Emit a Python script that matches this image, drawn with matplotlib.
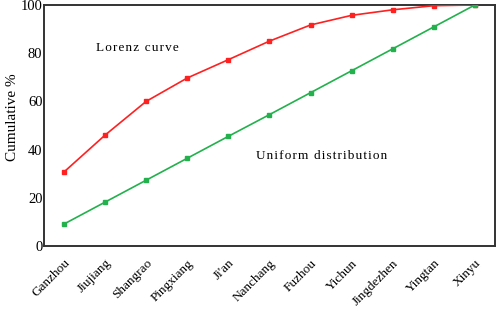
import matplotlib
matplotlib.use("Agg")
import matplotlib.pyplot as plt

cities = ["Ganzhou", "Jiujiang", "Shangrao", "Pingxiang", "Ji'an", "Nanchang",
          "Fuzhou", "Yichun", "Jingdezhen", "Yingtan", "Xinyu"]
lorenz = [30.7, 46.0, 60.0, 69.7, 77.3, 85.0, 91.7, 95.7, 98.0, 99.7, 100.0]
uniform = [9.1, 18.2, 27.3, 36.4, 45.5, 54.5, 63.6, 72.7, 81.8, 90.9, 100.0]
yticks = [0, 20, 40, 60, 80, 100]

plt.rcParams['font.family'] = ['Liberation Serif', 'DejaVu Serif']

def spaced(s):
    return '\u200a'.join(s)

fig = plt.figure(figsize=(4.98, 3.11), dpi=100)
ax = fig.add_axes([0.088, 0.209, 0.906, 0.775])
x = list(range(len(cities)))
ax.plot(x, lorenz, color='#ff2020', lw=1.2, marker='s', ms=2.5, zorder=3)
ax.plot(x, uniform, color='#22b14c', lw=1.2, marker='s', ms=2.5, zorder=3)
ax.set_xlim(-0.49, 10.49)
ax.set_ylim(0, 100)
ax.set_yticks(yticks)
ax.set_xticks(x)
ax.set_xticklabels(cities, rotation=45, ha='right', rotation_mode='anchor', fontsize=9.5)
ax.tick_params(axis='both', length=0)
ax.tick_params(axis='x', pad=8)
ax.tick_params(axis='y', pad=1, labelsize=10.5)
for s in ax.spines.values():
    s.set_color('#333333')
    s.set_linewidth(1.4)
fig.text(12 / 498, 1 - 117 / 311, 'Cumulative %', rotation=90, ha='center', va='center', fontsize=11)
ax.text(0.78, 82, spaced('Lorenz curve'), fontsize=9.5, va='center', ha='left')
ax.text(4.67, 37.3, spaced('Uniform distribution'), fontsize=9.5, va='center', ha='left')
fig.savefig('out.png', dpi=100)
